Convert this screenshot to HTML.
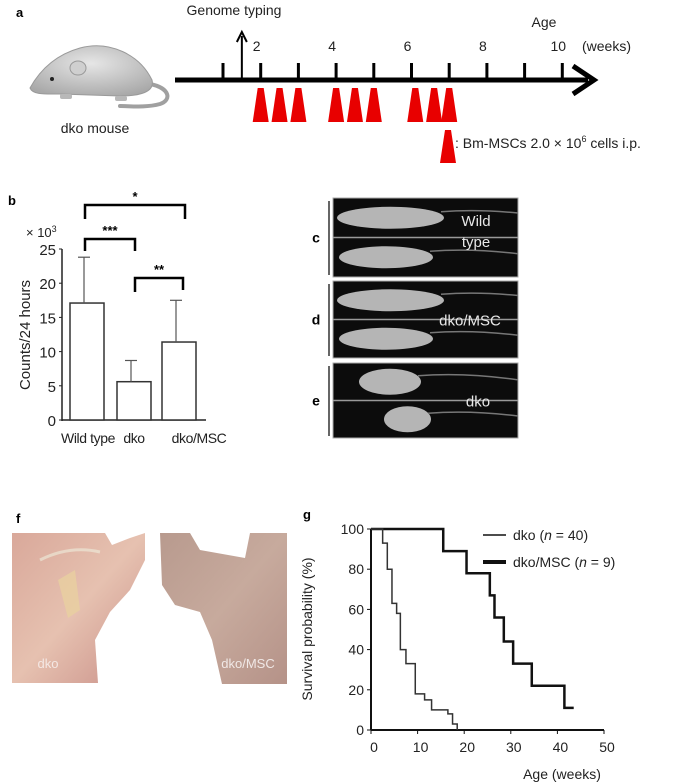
<!DOCTYPE html>
<html><head><meta charset="utf-8"><style>
html,body{margin:0;padding:0;background:#fff;}
svg{display:block;font-family:"Liberation Sans",Arial,sans-serif;}
</style></head><body>
<svg id="fig" width="675" height="784" viewBox="0 0 675 784">
<defs>
<radialGradient id="mg" cx="0.5" cy="0.35" r="0.7"><stop offset="0" stop-color="#e6e6e6"/><stop offset="1" stop-color="#a8a8a8"/></radialGradient>
<linearGradient id="pk1" x1="0" y1="0" x2="1" y2="1"><stop offset="0" stop-color="#d9a89a"/><stop offset="0.5" stop-color="#e6c1b0"/><stop offset="1" stop-color="#c98f88"/></linearGradient>
<linearGradient id="pk2" x1="0" y1="0" x2="1" y2="1"><stop offset="0" stop-color="#b89a8e"/><stop offset="0.5" stop-color="#c7aa9d"/><stop offset="1" stop-color="#b59288"/></linearGradient>
<clipPath id="xclip"><rect x="333" y="198" width="185" height="240"/></clipPath>
</defs>

<!-- Panel a -->
<g>
<text x="16" y="17" font-size="13" font-weight="bold">a</text>
<g>
<path d="M150,84 C170,88 172,100 160,104 C145,108 130,106 120,106" fill="none" stroke="#a0a0a0" stroke-width="4" stroke-linecap="round"/>
<path d="M30,88 C40,70 55,55 80,48 C110,40 140,55 152,80 C155,92 140,96 120,96 L60,94 C45,94 33,95 30,88 Z" fill="url(#mg)" stroke="#9a9a9a" stroke-width="1"/>
<ellipse cx="78" cy="68" rx="8" ry="7" fill="#cfcfcf" stroke="#999"/>
<circle cx="52" cy="79" r="2" fill="#222"/>
<rect x="60" y="94" width="12" height="5" rx="2" fill="#b8b8b8"/><rect x="115" y="96" width="12" height="5" rx="2" fill="#b8b8b8"/>
</g>
<text x="95" y="133" font-size="14" text-anchor="middle" fill="#222">dko mouse</text>
<text x="234" y="15" font-size="14" text-anchor="middle" fill="#222">Genome typing</text>
<text x="544" y="27" font-size="14" text-anchor="middle" fill="#222">Age</text>
<g id="timeline"></g>
<text x="455" y="148" font-size="14" fill="#222">: Bm-MSCs 2.0 × 10<tspan font-size="9" dy="-6">6</tspan><tspan dy="6"> cells i.p.</tspan></text>
</g>

<!-- Panel b -->
<g>
<text x="8" y="205" font-size="13" font-weight="bold">b</text>
<text x="26" y="237" font-size="13" fill="#222">× 10<tspan font-size="9" dy="-5">3</tspan></text>
<text transform="translate(30,335) rotate(-90)" font-size="15" text-anchor="middle" fill="#222">Counts/24 hours</text>
<g id="barchart"></g>
</g>

<!-- Panels c d e -->
<g>
<g id="xray"></g>
</g>

<!-- Panel f -->
<g>
<text x="16" y="523" font-size="13" font-weight="bold">f</text>
<path d="M12,533 L105,533 L112,545 L130,538 L145,533 L145,560 L130,590 L110,612 L95,640 L98,683 L12,683 Z" fill="url(#pk1)"/>
<path d="M40,560 Q70,545 100,552" stroke="#eed" stroke-width="3" fill="none" opacity="0.6"/>
<path d="M58,580 L75,570 L80,610 L68,618 Z" fill="#e8cfa0" opacity="0.8"/>
<text x="48" y="668" font-size="13" text-anchor="middle" fill="#f4e8e4">dko</text>
<path d="M160,533 L190,533 L200,550 L245,558 L250,533 L287,533 L287,684 L222,684 L212,640 L200,612 L175,605 L162,585 Z" fill="url(#pk2)"/>
<text x="248" y="668" font-size="13" text-anchor="middle" fill="#f0e8e6">dko/MSC</text>
</g>

<!-- Panel g -->
<g>
<text x="303" y="519" font-size="13" font-weight="bold">g</text>
<text transform="translate(312,629) rotate(-90)" font-size="14" text-anchor="middle" fill="#222">Survival probability (%)</text>
<text x="562" y="779" font-size="14" text-anchor="middle" fill="#222">Age (weeks)</text>
<g id="survival"></g>
<line x1="483" y1="535" x2="506" y2="535" stroke="#111" stroke-width="1.5"/>
<text x="513" y="540" font-size="14" fill="#222">dko (<tspan font-style="italic">n</tspan> = 40)</text>
<line x1="483" y1="562" x2="506" y2="562" stroke="#111" stroke-width="4"/>
<text x="513" y="567" font-size="14" fill="#222">dko/MSC (<tspan font-style="italic">n</tspan> = 9)</text>
</g>
</svg>
<script>
// ---- Panel a data ----
const weekTicks = [1,2,3,4,5,6,7,8,9,10];
const weekLabels = [2,4,6,8,10];
const injectionWeeks = [2,2.5,3,4,4.5,5,6.1,6.6,7];
const genomeWeek = 1.5;
// ---- Panel b data ----
const barCategories = ["Wild type","dko","dko/MSC"];
const barValues = [17.1,5.6,11.4];
const barErrors = [6.7,3.1,6.1];
const barTicks = [0,5,10,15,20,25];
// ---- Panel g data ----
const dkoTimes = [0,2.5,3.5,4.5,5.5,6.3,7.5,9.5,11.5,13,16.5,17.5,18.5];
const dkoSurv = [100,93,80,63,58,40,33,18,15,10,8,3,0];
const mscTimes = [0,15.5,20.5,25.5,26.5,28.5,30.5,34.5,41.5,43.5];
const mscSurv = [100,89,78,67,56,44,33,22,11,11];
const survXTicks = [0,10,20,30,40,50];
const survYTicks = [0,20,40,60,80,100];

const NS="http://www.w3.org/2000/svg";
function mk(tag,attrs,parent){const e=document.createElementNS(NS,tag);for(const k in attrs)e.setAttribute(k,attrs[k]);parent.appendChild(e);return e;}

// Timeline
const tl=document.getElementById('timeline');
const wx=w=>223+(w-1)*37.7;
mk('line',{x1:175,y1:80,x2:588,y2:80,stroke:'#000','stroke-width':5},tl);
mk('path',{d:'M573,66 L594,80 L573,94',fill:'none',stroke:'#000','stroke-width':5},tl);
weekTicks.forEach(w=>{const t=mk('line',{x1:wx(w),y1:63,x2:wx(w),y2:80,stroke:'#000','stroke-width':3},tl);

});
weekLabels.forEach(w=>{const t=mk('text',{x:wx(w)-4,y:51,'font-size':14,'text-anchor':'middle',fill:'#222'},tl);t.textContent=w;

});
const wt=mk('text',{x:582,y:51,'font-size':14,fill:'#222'},tl);wt.textContent='(weeks)';


const gx=wx(genomeWeek);
const ga=mk('line',{x1:gx,y1:80,x2:gx,y2:36,stroke:'#000','stroke-width':2},tl);

mk('path',{d:`M${gx-5},42 L${gx},32 L${gx+5},42`,fill:'none',stroke:'#000','stroke-width':2},tl);
injectionWeeks.forEach(w=>{const x=wx(w);const p=mk('polygon',{points:`${x-3},88 ${x+3},88 ${x+8},122 ${x-8},122`,fill:'#e80000'},tl);

});
const lg=mk('polygon',{points:'445,130 451,130 456,163 440,163',fill:'#e80000'},tl);


// Bar chart
const bc=document.getElementById('barchart');
const by=v=>420-v*6.84;
const bx=[70,117,162], bw=34;
mk('line',{x1:62,y1:249,x2:62,y2:421,stroke:'#222','stroke-width':1.5},bc);
mk('line',{x1:62,y1:420,x2:206,y2:420,stroke:'#222','stroke-width':1.5},bc);
barTicks.forEach(v=>{const t=mk('text',{x:56,y:by(v)+6,'font-size':15,'text-anchor':'end',fill:'#222'},bc);t.textContent=v;


mk('line',{x1:59,y1:by(v),x2:62,y2:by(v),stroke:'#222'},bc);});
barCategories.forEach((c,i)=>{
const r=mk('rect',{x:bx[i],y:by(barValues[i]),width:bw,height:420-by(barValues[i]),fill:'#fff',stroke:'#333','stroke-width':1.5},bc);


const cx=bx[i]+bw/2-3, top=by(barValues[i]+barErrors[i]);
const e=mk('line',{x1:cx,y1:by(barValues[i]),x2:cx,y2:top,stroke:'#555','stroke-width':1.2},bc);


mk('line',{x1:cx-6,y1:top,x2:cx+6,y2:top,stroke:'#555','stroke-width':1.2},bc);
const t=mk('text',{x:[88,134,199][i],y:443,'font-size':14,'letter-spacing':'-0.4','text-anchor':'middle',fill:'#222'},bc);t.textContent=c;


});
function bracket(x1,x2,y,d1,d2,label){const p=mk('path',{d:`M${x1},${y+d1} L${x1},${y} L${x2},${y} L${x2},${y+d2}`,fill:'none',stroke:'#000','stroke-width':2.5},bc);


const t=mk('text',{x:(x1+x2)/2,y:y-4,'font-size':13,'text-anchor':'middle','font-weight':'bold'},bc);t.textContent=label;

}
bracket(85,185,205,14,14,'*');
bracket(85,135,239,12,12,'***');
bracket(135,183,278,14,12,'**');

// X-ray panels
const xr=document.getElementById('xray');
[[198,277,'c',['Wild','type']],[281,358,'d',['dko/MSC']],[363,438,'e',['dko']]].forEach(([y1,y2,l,txt])=>{
const r=mk('rect',{x:333,y:y1,width:185,height:y2-y1,fill:'#0c0c0c',stroke:'#aaa','stroke-width':1},xr);


const m=(y1+y2)/2;
mk('line',{x1:333,y1:m,x2:518,y2:m,stroke:'#999','stroke-width':1.5},xr);
mk('line',{x1:329,y1:y1+3,x2:329,y2:y2-2,stroke:'#333','stroke-width':1.5},xr);
const big=l!=='e';
const cg=mk('g',{'clip-path':'url(#xclip)'},xr);
[y1+ (m-y1)/2, m+(y2-m)/2].forEach((cy,k)=>{
const x0=big?(k?340:338):(k?385:360), w=big?(k?82:95):(k?35:50);
mk('ellipse',{cx:x0+w/2+5,cy:cy,rx:w/2+6,ry:big?11:13,fill:'#c8c8c8',opacity:0.9},cg);
mk('path',{d:`M${x0+w+8},${cy-6} Q${x0+w+60},${cy-10} ${x0+w+120},${cy}`,stroke:'#777','stroke-width':1.5,fill:'none'},cg);});
const lt=mk('text',{x:316,y:m+5,'font-size':14,'font-weight':'bold','text-anchor':'middle'},xr);lt.textContent=l;


txt.forEach((s,k)=>{const t=mk('text',{x:l==='c'?476:(l==='d'?470:478),y:txt.length>1?(226+k*21):m+6,'font-size':15,'text-anchor':'middle',fill:'#e8e8e8'},xr);t.textContent=s;

});
});

// Survival chart
const sv=document.getElementById('survival');
const sx=v=>371+v*4.66, sy=v=>730-v*2.01;
mk('line',{x1:sx(0),y1:sy(100),x2:sx(0),y2:sy(0),stroke:'#111','stroke-width':2},sv);
mk('line',{x1:sx(0),y1:sy(0),x2:sx(50),y2:sy(0),stroke:'#111','stroke-width':2},sv);
survXTicks.forEach(v=>{mk('line',{x1:sx(v),y1:sy(0),x2:sx(v),y2:sy(0)+4,stroke:'#111'},sv);
const t=mk('text',{x:sx(v)+3,y:752,'font-size':14,'text-anchor':'middle',fill:'#222'},sv);t.textContent=v;

});
survYTicks.forEach(v=>{mk('line',{x1:sx(0)-4,y1:sy(v),x2:sx(0),y2:sy(v),stroke:'#111'},sv);
const t=mk('text',{x:sx(0)-7,y:sy(v)+5,'font-size':14,'text-anchor':'end',fill:'#222'},sv);t.textContent=v;

});
function steps(T,S){let d=`M${sx(T[0])},${sy(S[0])}`;for(let i=1;i<T.length;i++){d+=` L${sx(T[i])},${sy(S[i-1])} L${sx(T[i])},${sy(S[i])}`;}return d;}
const l2=mk('path',{d:steps(mscTimes,mscSurv),fill:'none',stroke:'#111','stroke-width':2.5},sv);


const l1=mk('path',{d:steps(dkoTimes,dkoSurv),fill:'none',stroke:'#333','stroke-width':1.5},sv);


</script>
</body></html>
